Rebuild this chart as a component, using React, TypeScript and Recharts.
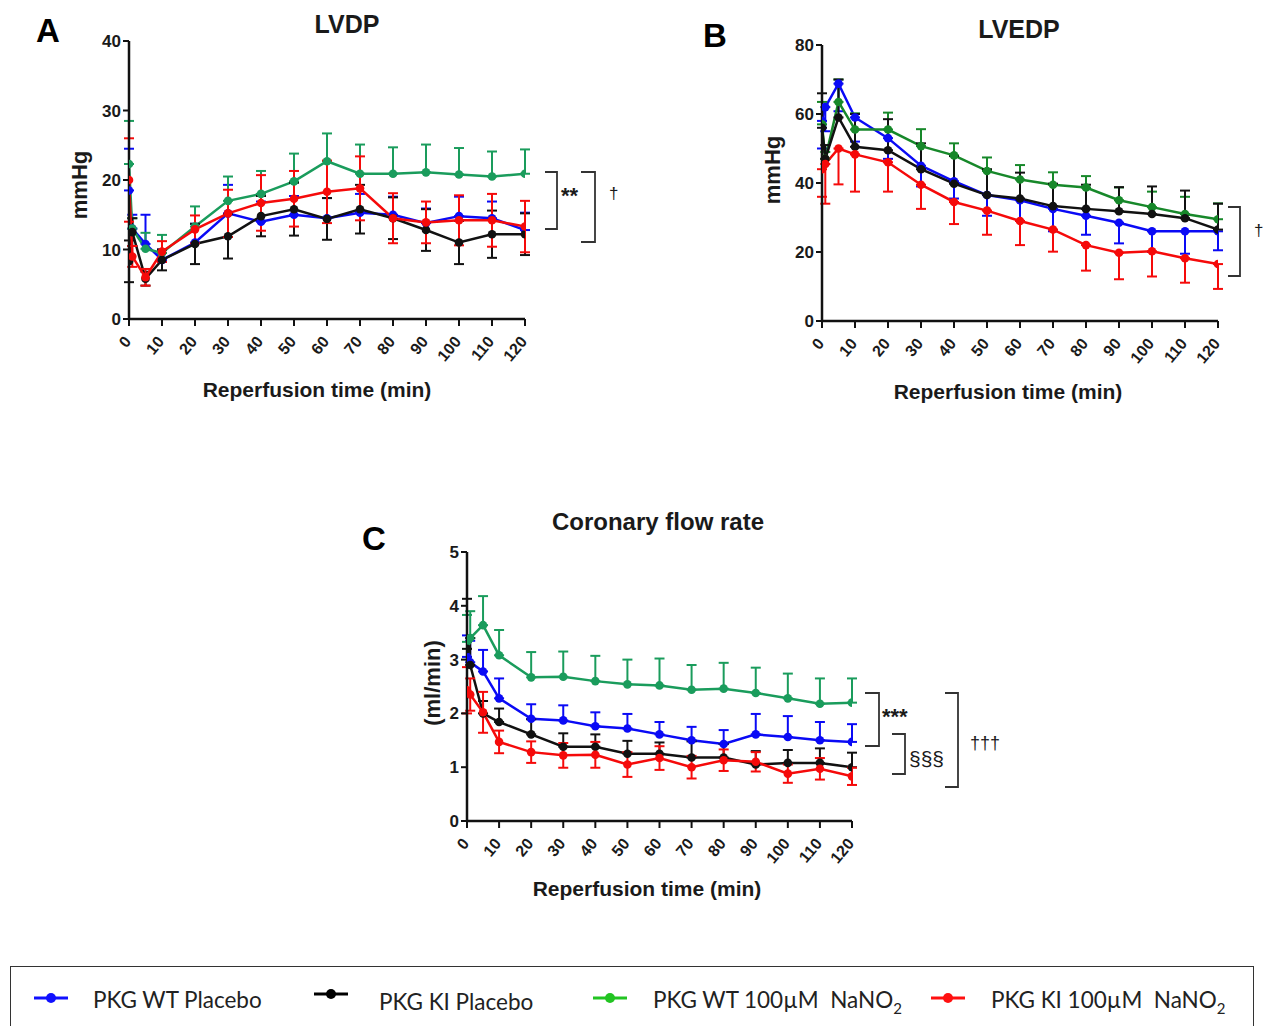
import React from "react";
import { LineChart, Line, XAxis, YAxis, ErrorBar } from "recharts";

// reperfusion sampling times (min)
const times = [0, 1, 5, 10, 20, 30, 40, 50, 60, 70, 80, 90, 100, 110, 120];
const xTicks = [0, 10, 20, 30, 40, 50, 60, 70, 80, 90, 100, 110, 120];

// A - LVDP (mmHg)
const lvdpWtPlacebo = [18.5, 13, 10.8, 8.5, 11, 15.2, 14, 15, 14.5, 15.3, 15, 13.8, 14.8, 14.5, 12.8];
const lvdpWtPlaceboSem = [6, 2, 4.2, 1.5, 2.7, 4.1, 2.9, 2.7, 2.9, 2.7, 2.6, 2.1, 2.8, 2.4, 2.5];
const lvdpKiPlacebo = [8.3, 12.5, 5.8, 8.5, 10.8, 11.9, 14.8, 15.8, 14.4, 15.8, 14.5, 12.8, 11, 12.2, 12.2];
const lvdpKiPlaceboSem = [3, 2, 1, 1.5, 2.9, 3.2, 2.9, 3.8, 3, 3.5, 3, 3, 3.1, 3.4, 3];
const lvdpWtNitrite = [22.3, 13, 10.1, 9.5, 13.3, 17, 18, 19.8, 22.7, 20.9, 20.9, 21.1, 20.8, 20.5, 20.9];
const lvdpWtNitriteSem = [6.2, 1.5, 2.3, 2.6, 2.9, 3.5, 3.3, 4, 4, 4.2, 3.8, 4, 3.8, 3.6, 3.5];
const lvdpKiNitrite = [20, 9, 6, 9.7, 12.9, 15.2, 16.7, 17.3, 18.3, 18.8, 14.5, 13.9, 14.2, 14.2, 13.3];
const lvdpKiNitriteSem = [6, 1.5, 1.2, 1.5, 2, 3.4, 4, 4, 4.5, 4.6, 3.6, 3, 3.6, 3.8, 3.7];

// B - LVEDP (mmHg)
const lvedpWtPlacebo = [58, 62, 68.8, 59, 53, 45, 40.5, 36.5, 35, 32.5, 30.5, 28.5, 26, 26, 26];
const lvedpWtPlaceboSem = [8, 7, 8, 7, 6, 6, 5, 6, 6, 6.5, 5.5, 6, 6, 6.5, 5.5];
const lvedpKiPlacebo = [56, 47, 59, 50.5, 49.5, 44, 39.8, 36.5, 35.5, 33.3, 32.5, 31.8, 31, 29.8, 26.5];
const lvedpKiPlaceboSem = [10, 4, 11, 9.5, 9, 7.5, 8, 7.5, 7.5, 6.5, 7, 7, 8, 8, 7.5];
const lvedpWtNitrite = [57, 47, 63.5, 55.5, 55.5, 50.7, 48, 43.5, 41, 39.5, 38.7, 35, 33, 31, 29.5];
const lvedpWtNitriteSem = [6.5, 2, 6.5, 4.7, 4.9, 4.9, 3.5, 3.9, 4.2, 3.6, 3.3, 3.7, 4.5, 5, 4.6];
const lvedpKiNitrite = [44, 45.5, 50, 48.3, 46, 39.5, 34.5, 32, 29, 26.5, 22, 19.8, 20.2, 18.2, 16.5];
const lvedpKiNitriteSem = [8, 11.5, 10.4, 10.8, 8.5, 7, 6.4, 7, 7, 6.4, 7.4, 7.7, 7.3, 7.1, 7.2];

// C - Coronary flow rate (ml/min)
const cfWtPlacebo = [3.05, 2.95, 2.78, 2.28, 1.9, 1.87, 1.76, 1.72, 1.61, 1.5, 1.43, 1.61, 1.56, 1.5, 1.47];
const cfWtPlaceboSem = [0.4, 0.4, 0.4, 0.37, 0.27, 0.28, 0.26, 0.27, 0.23, 0.25, 0.26, 0.38, 0.39, 0.34, 0.33];
const cfKiPlacebo = [3.2, 2.9, 2.0, 1.84, 1.61, 1.38, 1.38, 1.25, 1.25, 1.18, 1.18, 1.05, 1.08, 1.08, 1.0];
const cfKiPlaceboSem = [0.93, 0.5, 0.23, 0.25, 0.28, 0.25, 0.23, 0.24, 0.21, 0.3, 0.25, 0.25, 0.24, 0.27, 0.27];
const cfWtNitrite = [3.33, 3.4, 3.64, 3.08, 2.67, 2.68, 2.6, 2.54, 2.52, 2.44, 2.46, 2.38, 2.28, 2.18, 2.2];
const cfWtNitriteSem = [0.5, 0.5, 0.54, 0.47, 0.47, 0.47, 0.47, 0.46, 0.5, 0.46, 0.48, 0.47, 0.46, 0.47, 0.45];
const cfKiNitrite = [2.43, 2.35, 2.02, 1.47, 1.28, 1.22, 1.23, 1.05, 1.17, 1.0, 1.13, 1.1, 0.88, 0.97, 0.83];
const cfKiNitriteSem = [0.43, 0.3, 0.38, 0.21, 0.2, 0.23, 0.24, 0.23, 0.22, 0.21, 0.2, 0.18, 0.17, 0.2, 0.16];

const FONT = "Arial, 'Liberation Sans', sans-serif";
const BLUE = "#0a0af5";
const BLACK = "#111111";
const RED = "#f50a0a";
const GREEN = "#1a9c5c";
const DARK_GREEN = "#17882a";

type Side = "up" | "down" | "both";
type Series = { key: string; values: number[]; sem: number[]; side: Side; color: string };

const errPair = (v: number, side: Side) =>
  side === "up" ? [0, v] : side === "down" ? [v, 0] : [v, v];

const XTick = (props: any) => {
  const { x, y, payload } = props;
  const ax = x + 3;
  const ay = y + 14;
  return (
    <text
      x={ax}
      y={ay}
      transform={`rotate(-50 ${ax} ${ay})`}
      textAnchor="end"
      fontFamily={FONT}
      fontWeight="bold"
      fontSize={16}
      fill="#1a1a1a"
    >
      {payload.value}
    </text>
  );
};

const YTick = (props: any) => {
  const { x, y, payload } = props;
  return (
    <text x={x} y={y} dy={6} textAnchor="end" fontFamily={FONT} fontWeight="bold" fontSize={17} fill="#1a1a1a">
      {payload.value}
    </text>
  );
};

function Panel(props: {
  left: number;
  top: number;
  width: number;
  height: number;
  plot: { x0: number; x1: number; y0: number; y1: number };
  yMax: number;
  yTicks: number[];
  series: Series[];
}) {
  const { left, top, width, height, plot, yMax, yTicks, series } = props;
  const yAxisW = 50;
  const xAxisH = 50;
  const margin = {
    left: plot.x0 - left - yAxisW,
    right: left + width - plot.x1,
    top: plot.y0 - top,
    bottom: top + height - plot.y1 - xAxisH,
  };

  const rows = times.map((t, i) => {
    const row: any = { t };
    series.forEach((s) => {
      row[s.key] = s.values[i];
      row[s.key + "Err"] = errPair(s.sem[i], s.side);
    });
    return row;
  });

  return (
    <div style={{ position: "absolute", left, top }}>
      <LineChart width={width} height={height} data={rows} margin={margin}>
        <XAxis
          dataKey="t"
          type="number"
          domain={[0, 120]}
          ticks={xTicks}
          interval={0}
          height={xAxisH}
          tickSize={7}
          tickMargin={2}
          tick={<XTick />}
          axisLine={{ stroke: BLACK, strokeWidth: 2.5 }}
          tickLine={{ stroke: BLACK, strokeWidth: 2 }}
          allowDataOverflow
        />
        <YAxis
          type="number"
          domain={[0, yMax]}
          ticks={yTicks}
          interval={0}
          width={yAxisW}
          tickSize={6}
          tickMargin={2}
          tick={<YTick />}
          axisLine={{ stroke: BLACK, strokeWidth: 2.5 }}
          tickLine={{ stroke: BLACK, strokeWidth: 2 }}
          allowDataOverflow
        />
        {series.map((s) => (
          <Line
            key={s.key}
            dataKey={s.key}
            type="linear"
            stroke={s.color}
            strokeWidth={2.5}
            dot={{ r: 4.3, fill: s.color, stroke: s.color, strokeWidth: 0 }}
            activeDot={false}
            isAnimationActive={false}
          >
            <ErrorBar
              dataKey={s.key + "Err"}
              direction="y"
              width={5}
              stroke={s.color}
              strokeWidth={2}
              isAnimationActive={false}
            />
          </Line>
        ))}
      </LineChart>
    </div>
  );
}

const lvdpSeries: Series[] = [
  { key: "wtP", values: lvdpWtPlacebo, sem: lvdpWtPlaceboSem, side: "up", color: BLUE },
  { key: "wtN", values: lvdpWtNitrite, sem: lvdpWtNitriteSem, side: "up", color: GREEN },
  { key: "kiP", values: lvdpKiPlacebo, sem: lvdpKiPlaceboSem, side: "both", color: BLACK },
  { key: "kiN", values: lvdpKiNitrite, sem: lvdpKiNitriteSem, side: "both", color: RED },
];

const lvedpSeries: Series[] = [
  { key: "wtP", values: lvedpWtPlacebo, sem: lvedpWtPlaceboSem, side: "down", color: BLUE },
  { key: "wtN", values: lvedpWtNitrite, sem: lvedpWtNitriteSem, side: "up", color: DARK_GREEN },
  { key: "kiP", values: lvedpKiPlacebo, sem: lvedpKiPlaceboSem, side: "up", color: BLACK },
  { key: "kiN", values: lvedpKiNitrite, sem: lvedpKiNitriteSem, side: "down", color: RED },
];

const cfSeries: Series[] = [
  { key: "wtP", values: cfWtPlacebo, sem: cfWtPlaceboSem, side: "up", color: BLUE },
  { key: "wtN", values: cfWtNitrite, sem: cfWtNitriteSem, side: "up", color: GREEN },
  { key: "kiP", values: cfKiPlacebo, sem: cfKiPlaceboSem, side: "up", color: BLACK },
  { key: "kiN", values: cfKiNitrite, sem: cfKiNitriteSem, side: "both", color: RED },
];

const legendItems = [
  { label: "PKG WT Placebo", color: "#1010ff", sub: false },
  { label: "PKG KI Placebo", color: "#000000", sub: false },
  { label: "PKG WT 100µM  NaNO", color: "#22c422", sub: true },
  { label: "PKG KI 100µM  NaNO", color: "#ff1010", sub: true },
];
const legendPos = [
  { mx: 33, tx: 92 },
  { mx: 313, tx: 378 },
  { mx: 592, tx: 652 },
  { mx: 930, tx: 990 },
];

function Bracket({ x0, x1, y0, y1 }: { x0: number; x1: number; y0: number; y1: number }) {
  return (
    <polyline
      points={`${x0},${y0} ${x1},${y0} ${x1},${y1} ${x0},${y1}`}
      fill="none"
      stroke="#333"
      strokeWidth={1.8}
    />
  );
}

export default function App() {
  const bold = { fontFamily: FONT, fontWeight: "bold" as const, fill: "#1a1a1a" };
  return (
    <div
      style={{
        position: "absolute",
        left: 0,
        top: 0,
        width: 1274,
        height: 1026,
        overflow: "hidden",
        background: "#fff",
      }}
    >
      <Panel
        left={0}
        top={0}
        width={560}
        height={420}
        plot={{ x0: 129, x1: 525, y0: 41, y1: 319 }}
        yMax={40}
        yTicks={[0, 10, 20, 30, 40]}
        series={lvdpSeries}
      />
      <Panel
        left={690}
        top={0}
        width={560}
        height={420}
        plot={{ x0: 822, x1: 1218, y0: 45, y1: 321 }}
        yMax={80}
        yTicks={[0, 20, 40, 60, 80]}
        series={lvedpSeries}
      />
      <Panel
        left={360}
        top={500}
        width={520}
        height={420}
        plot={{ x0: 467, x1: 852, y0: 552, y1: 821 }}
        yMax={5}
        yTicks={[0, 1, 2, 3, 4, 5]}
        series={cfSeries}
      />

      <svg
        width={1274}
        height={1026}
        style={{ position: "absolute", left: 0, top: 0, pointerEvents: "none" }}
      >
        {/* panel letters */}
        <text x={36} y={42} fontSize={33} {...bold} fill="#000">A</text>
        <text x={703} y={47} fontSize={33} {...bold} fill="#000">B</text>
        <text x={362} y={550} fontSize={33} {...bold} fill="#000">C</text>

        {/* titles */}
        <text x={347} y={33} fontSize={25} textAnchor="middle" {...bold}>LVDP</text>
        <text x={1019} y={38} fontSize={25} textAnchor="middle" {...bold}>LVEDP</text>
        <text x={658} y={530} fontSize={24} textAnchor="middle" {...bold}>Coronary flow rate</text>

        {/* y labels */}
        <text x={0} y={0} transform="translate(87 185) rotate(-90)" fontSize={22} textAnchor="middle" {...bold}>mmHg</text>
        <text x={0} y={0} transform="translate(780 170) rotate(-90)" fontSize={22} textAnchor="middle" {...bold}>mmHg</text>
        <text x={0} y={0} transform="translate(440 683) rotate(-90)" fontSize={22} textAnchor="middle" {...bold}>(ml/min)</text>

        {/* x labels */}
        <text x={317} y={397} fontSize={21} textAnchor="middle" {...bold}>Reperfusion time (min)</text>
        <text x={1008} y={399} fontSize={21} textAnchor="middle" {...bold}>Reperfusion time (min)</text>
        <text x={647} y={896} fontSize={21} textAnchor="middle" {...bold}>Reperfusion time (min)</text>

        {/* significance brackets A */}
        <Bracket x0={545} x1={557} y0={172} y1={229} />
        <text x={561} y={203} fontSize={22} {...bold}>**</text>
        <Bracket x0={581} x1={595} y0={172} y1={242} />
        <text x={609} y={199} fontSize={17} fontFamily={FONT} fill="#1a1a1a">†</text>

        {/* significance brackets B */}
        <Bracket x0={1228} x1={1240} y0={207} y1={276} />
        <text x={1254} y={236} fontSize={17} fontFamily={FONT} fill="#1a1a1a">†</text>

        {/* significance brackets C */}
        <Bracket x0={865} x1={879} y0={693} y1={746} />
        <text x={882} y={724} fontSize={22} {...bold}>***</text>
        <Bracket x0={892} x1={905} y0={734} y1={774} />
        <text x={909} y={766} fontSize={21} fontFamily={FONT} fill="#1a1a1a">§§§</text>
        <Bracket x0={945} x1={958} y0={693} y1={787} />
        <text x={970} y={749} fontSize={18} fontFamily={FONT} fill="#1a1a1a">†††</text>
      </svg>

      {/* shared legend */}
      <div
        style={{
          position: "absolute",
          left: 10,
          top: 966,
          width: 1244,
          height: 80,
          border: "1.5px solid #333",
          boxSizing: "border-box",
        }}
      >
        {legendItems.map((it, i) => (
          <React.Fragment key={it.label}>
            <svg
              width={34}
              height={14}
              style={{ position: "absolute", left: legendPos[i].mx - 10, top: 24 + (i === 1 ? -4 : 0) }}
            >
              <line x1={0} y1={7} x2={34} y2={7} stroke={it.color} strokeWidth={3} />
              <circle cx={17} cy={7} r={5} fill={it.color} />
            </svg>
            <div
              style={{
                position: "absolute",
                left: legendPos[i].tx - 10,
                top: 19 + (i === 1 ? 2 : 0),
                fontFamily: "Lato, 'Open Sans', sans-serif",
                fontSize: 22.5,
                color: "#222",
                whiteSpace: "pre",
              }}
            >
              {it.label}
              {it.sub ? <sub style={{ fontSize: 15 }}>2</sub> : null}
            </div>
          </React.Fragment>
        ))}
      </div>
    </div>
  );
}
